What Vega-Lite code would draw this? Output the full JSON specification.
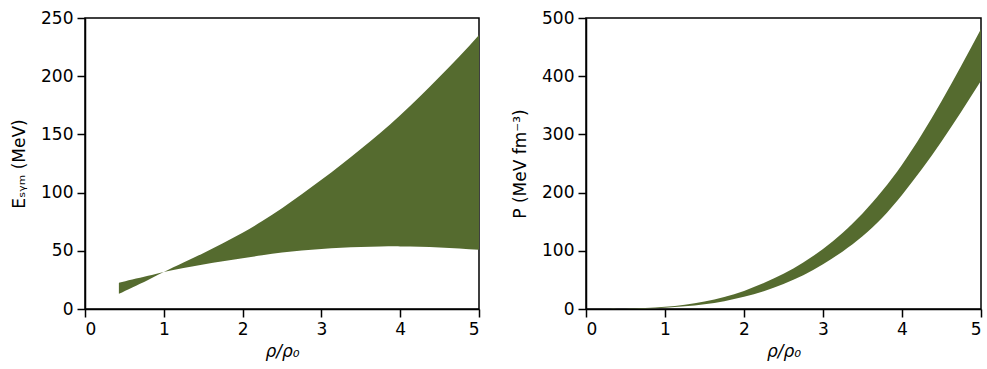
{
  "$schema": "https://vega.github.io/schema/vega-lite/v6.json",
  "background": "white",
  "padding": {"left": 9, "top": 8, "right": 4, "bottom": 4},
  "spacing": 29,
  "config": {
    "font": "DejaVu Sans",
    "view": {"stroke": "black", "strokeWidth": 1.5},
    "axis": {
      "labelFont": "DejaVu Sans", "titleFont": "DejaVu Sans",
      "labelFontSize": 17, "titleFontSize": 17, "titleFontWeight": "normal",
      "labelColor": "black", "titleColor": "black",
      "tickColor": "black", "tickSize": 8, "tickWidth": 1.5,
      "domainColor": "black", "domainWidth": 1.5, "grid": false,
      "labelPadding": 4
    }
  },
  "datasets": {
    "esym": [
      {"x": 0.43, "a": 13, "b": 22.6},
      {"x": 0.6, "a": 18.5, "b": 25.3},
      {"x": 0.8, "a": 25, "b": 28.5},
      {"x": 1.0, "a": 31.8, "b": 31.8},
      {"x": 1.25, "a": 40, "b": 35.3},
      {"x": 1.5, "a": 48, "b": 38.3},
      {"x": 1.75, "a": 56.5, "b": 41},
      {"x": 2.0, "a": 65.5, "b": 43.6},
      {"x": 2.25, "a": 75.5, "b": 46.2},
      {"x": 2.5, "a": 86.5, "b": 48.5},
      {"x": 2.75, "a": 98.5, "b": 50.2},
      {"x": 3.0, "a": 111, "b": 51.6},
      {"x": 3.25, "a": 124, "b": 52.6},
      {"x": 3.5, "a": 137.5, "b": 53.3},
      {"x": 3.75, "a": 151.5, "b": 53.7},
      {"x": 4.0, "a": 166.5, "b": 53.8},
      {"x": 4.25, "a": 182.5, "b": 53.5},
      {"x": 4.5, "a": 199.5, "b": 52.9},
      {"x": 4.75, "a": 217, "b": 52},
      {"x": 5.0, "a": 235.5, "b": 50.8}
    ],
    "pres": [
      {"x": 0.3, "lo": 0.1, "hi": 0.2},
      {"x": 0.5, "lo": 0.3, "hi": 0.5},
      {"x": 0.75, "lo": 1.0, "hi": 1.6},
      {"x": 1.0, "lo": 2.3, "hi": 3.7},
      {"x": 1.25, "lo": 4.6, "hi": 7.3},
      {"x": 1.5, "lo": 8.1, "hi": 12.7},
      {"x": 1.75, "lo": 13.5, "hi": 20.5},
      {"x": 2.0, "lo": 21, "hi": 31},
      {"x": 2.25, "lo": 30.5, "hi": 44.5},
      {"x": 2.5, "lo": 43, "hi": 60.5},
      {"x": 2.75, "lo": 58, "hi": 80},
      {"x": 3.0, "lo": 77, "hi": 103},
      {"x": 3.25, "lo": 99, "hi": 131},
      {"x": 3.5, "lo": 125, "hi": 164},
      {"x": 3.75, "lo": 157, "hi": 203},
      {"x": 4.0, "lo": 196, "hi": 248},
      {"x": 4.25, "lo": 240, "hi": 300},
      {"x": 4.5, "lo": 288, "hi": 357},
      {"x": 4.75, "lo": 339, "hi": 418},
      {"x": 5.0, "lo": 392, "hi": 481}
    ]
  },
  "hconcat": [
    {
      "width": 394, "height": 291,
      "data": {"name": "esym"},
      "mark": {"type": "area", "color": "#556b2f", "interpolate": "natural"},
      "encoding": {
        "x": {"field": "x", "type": "quantitative", "scale": {"domain": [0, 5], "nice": false},
              "axis": {"values": [0, 1, 2, 3, 4, 5], "title": "ρ/ρ₀", "titleFontStyle": "italic", "titlePadding": 6}},
        "y": {"field": "a", "type": "quantitative", "scale": {"domain": [0, 250], "nice": false},
              "axis": {"values": [0, 50, 100, 150, 200, 250], "title": "Eₛᵧₘ (MeV)", "titlePadding": 12}},
        "y2": {"field": "b"}
      }
    },
    {
      "width": 395, "height": 291,
      "data": {"name": "pres"},
      "mark": {"type": "area", "color": "#556b2f", "interpolate": "natural"},
      "encoding": {
        "x": {"field": "x", "type": "quantitative", "scale": {"domain": [0, 5], "nice": false},
              "axis": {"values": [0, 1, 2, 3, 4, 5], "title": "ρ/ρ₀", "titleFontStyle": "italic", "titlePadding": 6}},
        "y": {"field": "lo", "type": "quantitative", "scale": {"domain": [0, 500], "nice": false},
              "axis": {"values": [0, 100, 200, 300, 400, 500], "title": "P (MeV fm⁻³)", "titlePadding": 12}},
        "y2": {"field": "hi"}
      }
    }
  ]
}
